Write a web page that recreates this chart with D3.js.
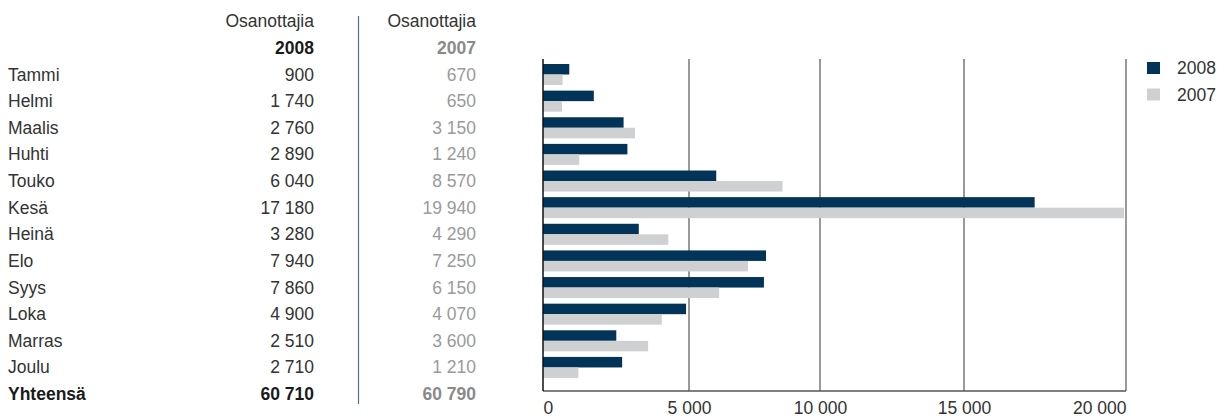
<!DOCTYPE html>
<html>
<head>
<meta charset="utf-8">
<script src="https://cdn.jsdelivr.net/npm/d3@7"></script>
<style>
    body { margin: 0; background: #fff; }
    svg { display: block; }
</style>
</head>
<body>
<div id="chart"></div>
<script>
// data
const months = ['Tammi', 'Helmi', 'Maalis', 'Huhti', 'Touko', 'Kesä', 'Heinä', 'Elo', 'Syys', 'Loka', 'Marras', 'Joulu'];
const values2008 = [900, 1740, 2760, 2890, 6040, 17180, 3280, 7940, 7860, 4900, 2510, 2710];
const values2007 = [670, 650, 3150, 1240, 8570, 19940, 4290, 7250, 6150, 4070, 3600, 1210];
const tickValues = [0, 5000, 10000, 15000, 20000];
const seriesNames = ['2008', '2007'];
const totalLabel = 'Yhteensä';
const headerLabel = 'Osanottajia';

const w = 1228,
    h = 420;

const c = {
    dark: '#023358',
    light: '#cfd0d2',
    text: '#333',
    muted: '#9a9a9a',
    grid: '#6e6e6e',
    sep: '#4d7094'
};

const font = '"Liberation Sans", Arial, sans-serif';
const fontSize = 17.5;

const locale = d3.formatLocale({ decimal: ',', thousands: '\u00a0', grouping: [3], currency: ['', ' €'] });
const fmt = locale.format(',d');

const svg = d3.select('#chart')
    .append('svg')
    .attr('width', w)
    .attr('height', h)
    .style('font-family', font)
    .style('font-size', `${fontSize}px`);

// rows (table + bars share the same band scale)
const rowStep = 26.63;
const y = d3.scaleBand()
    .domain(months)
    .range([61.2, 61.2 + months.length * rowStep])
    .paddingInner(0.21)
    .paddingOuter(0.105);

const sub = d3.scaleBand()
    .domain(seriesNames)
    .range([0, y.bandwidth()]);

// row text baseline relative to row centre
const rowY = i => y(months[0]) + y.bandwidth() / 2 + i * y.step() + 6;

// x scale of the chart is piecewise, as in the original artwork
const x = d3.scaleLinear()
    .domain(tickValues)
    .range([543, 689, 820, 964, 1126]);

const plotTop = 59,
    plotBottom = 391;

// ---- table ----
const col2008 = 314,
    col2007 = 476,
    colLabel = 8;

const table = svg.append('g');

[col2008, col2007].forEach(cx => {
    table.append('text')
        .attr('x', cx)
        .attr('y', rowY(-2))
        .attr('text-anchor', 'end')
        .attr('fill', c.text)
        .text(headerLabel);
});

table.append('text')
    .attr('x', col2008)
    .attr('y', rowY(-1))
    .attr('text-anchor', 'end')
    .attr('font-weight', 'bold')
    .attr('fill', '#1a1a1a')
    .text(seriesNames[0]);

table.append('text')
    .attr('x', col2007)
    .attr('y', rowY(-1))
    .attr('text-anchor', 'end')
    .attr('font-weight', 'bold')
    .attr('fill', '#8a8a8a')
    .text(seriesNames[1]);

months.forEach((m, i) => {
    table.append('text')
        .attr('x', colLabel)
        .attr('y', rowY(i))
        .attr('fill', c.text)
        .text(m);

    table.append('text')
        .attr('x', col2008)
        .attr('y', rowY(i))
        .attr('text-anchor', 'end')
        .attr('fill', c.text)
        .text(fmt(values2008[i]));

    table.append('text')
        .attr('x', col2007)
        .attr('y', rowY(i))
        .attr('text-anchor', 'end')
        .attr('fill', c.muted)
        .text(fmt(values2007[i]));
});

const n = months.length;
table.append('text')
    .attr('x', colLabel)
    .attr('y', rowY(n))
    .attr('font-weight', 'bold')
    .attr('fill', '#1a1a1a')
    .text(totalLabel);

table.append('text')
    .attr('x', col2008)
    .attr('y', rowY(n))
    .attr('text-anchor', 'end')
    .attr('font-weight', 'bold')
    .attr('fill', '#1a1a1a')
    .text(fmt(d3.sum(values2008)));

table.append('text')
    .attr('x', col2007)
    .attr('y', rowY(n))
    .attr('text-anchor', 'end')
    .attr('font-weight', 'bold')
    .attr('fill', '#8a8a8a')
    .text(fmt(d3.sum(values2007)));

table.append('line')
    .attr('x1', 358.5)
    .attr('x2', 358.5)
    .attr('y1', 16)
    .attr('y2', 404)
    .style('stroke', c.sep)
    .style('stroke-width', '1.2px');

// ---- chart ----
const grid = svg.append('g');

grid.selectAll('line')
    .data(tickValues.slice(1))
    .join('line')
    .attr('x1', d => x(d))
    .attr('x2', d => x(d))
    .attr('y1', plotTop)
    .attr('y2', plotBottom)
    .style('stroke', c.grid)
    .style('stroke-width', '1.4px');

const rows = months.map((m, i) => ({ month: m, '2008': values2008[i], '2007': values2007[i] }));

const bars = svg.append('g');

seriesNames.forEach((s, si) => {
    bars.selectAll(`rect.s${s}`)
        .data(rows)
        .join('rect')
        .attr('class', `s${s}`)
        .attr('x', x(0))
        .attr('y', d => y(d.month) + sub(s))
        .attr('width', d => x(d[s]) - x(0))
        .attr('height', sub.bandwidth())
        .style('fill', si === 0 ? c.dark : c.light);
});

// axes frame
svg.append('line')
    .attr('x1', x(0))
    .attr('x2', x(tickValues[tickValues.length - 1]))
    .attr('y1', plotBottom)
    .attr('y2', plotBottom)
    .style('stroke', '#555')
    .style('stroke-width', '1.5px');

svg.append('line')
    .attr('x1', x(0))
    .attr('x2', x(0))
    .attr('y1', plotTop)
    .attr('y2', plotBottom)
    .style('stroke', '#111')
    .style('stroke-width', '1.5px');

// tick labels
const axis = d3.axisBottom(x)
    .tickValues(tickValues)
    .tickSize(0)
    .tickPadding(0)
    .tickFormat(fmt);

const ax = svg.append('g')
    .attr('transform', `translate(0, ${plotBottom})`)
    .call(axis);

ax.select('.domain').remove();
ax.selectAll('text')
    .attr('y', 23)
    .attr('dy', 0)
    .style('font-family', font)
    .style('font-size', `${fontSize}px`)
    .attr('fill', c.text)
    .attr('text-anchor', (d, i) => i === 0 ? 'start' : (i === tickValues.length - 1 ? 'end' : 'middle'));

// legend
const legend = svg.append('g')
    .attr('transform', 'translate(1147, 62)');

seriesNames.forEach((s, i) => {
    const g = legend.append('g')
        .attr('transform', `translate(0, ${i * 26.5})`);
    g.append('rect')
        .attr('width', 13)
        .attr('height', 12)
        .style('fill', i === 0 ? c.dark : c.light);
    g.append('text')
        .attr('x', 30)
        .attr('y', 12)
        .attr('fill', c.text)
        .text(s);
});
</script>
</body>
</html>
